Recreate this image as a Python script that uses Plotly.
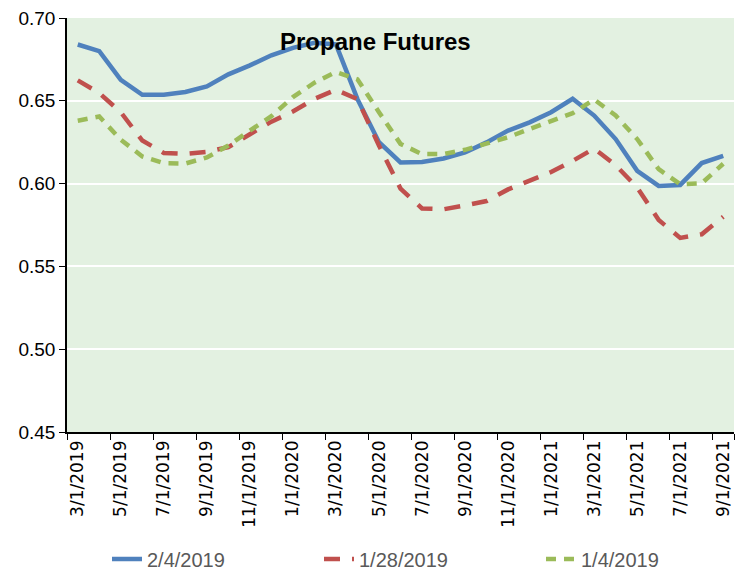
import plotly.graph_objects as go

months = ["3/1/2019","4/1/2019","5/1/2019","6/1/2019","7/1/2019","8/1/2019","9/1/2019","10/1/2019",
          "11/1/2019","12/1/2019","1/1/2020","2/1/2020","3/1/2020","4/1/2020","5/1/2020","6/1/2020",
          "7/1/2020","8/1/2020","9/1/2020","10/1/2020","11/1/2020","12/1/2020","1/1/2021","2/1/2021",
          "3/1/2021","4/1/2021","5/1/2021","6/1/2021","7/1/2021","8/1/2021","9/1/2021"]

s_0204 = [0.684,0.680,0.6626,0.6536,0.6536,0.6553,0.6587,0.666,0.6714,0.6775,0.682,0.685,0.684,0.651,
          0.625,0.6128,0.6131,0.6152,0.6188,0.6249,0.632,0.637,0.6431,0.6512,0.6411,0.6269,0.6077,
          0.5986,0.5992,0.6124,0.6168]
s_0128 = [0.6623,0.6547,0.6431,0.626,0.6185,0.618,0.6192,0.622,0.6298,0.6374,0.6435,0.6512,0.6567,0.651,
          0.623,0.597,0.585,0.5845,0.5868,0.5895,0.5965,0.6014,0.607,0.6137,0.6212,0.6111,0.5976,
          0.578,0.5672,0.5694,0.580]
s_0104 = [0.638,0.6405,0.6265,0.6164,0.6123,0.6121,0.6158,0.623,0.632,0.6407,0.6522,0.6609,0.6674,0.663,
          0.6431,0.624,0.6178,0.6178,0.6204,0.6239,0.628,0.633,0.638,0.6425,0.6508,0.6411,0.6269,
          0.6087,0.5996,0.6002,0.612]

tick_labels = months[::2]

fig = go.Figure()
fig.add_trace(go.Scatter(x=months, y=s_0204, mode="lines", name="2/4/2019", legend="legend",
                         line=dict(color="#4F81BD", width=4.5)))
fig.add_trace(go.Scatter(x=months, y=s_0128, mode="lines", name="1/28/2019", legend="legend2",
                         line=dict(color="#C0504D", width=4.5, dash="16px,12px")))
fig.add_trace(go.Scatter(x=months, y=s_0104, mode="lines", name="1/4/2019", legend="legend3",
                         line=dict(color="#9BBB59", width=4.5, dash="10px,8px")))

def leg(px):
    return dict(orientation="h", x=(px-67)/667, xanchor="left", y=-0.307, yanchor="middle",
                font=dict(family="Liberation Sans", size=20, color="#595959"),
                bgcolor="rgba(0,0,0,0)")

fig.update_layout(
    width=735, height=579,
    margin=dict(l=67, r=1, t=18, b=144),
    paper_bgcolor="white", plot_bgcolor="#E3F1E1",
    showlegend=True,
    legend=leg(107), legend2=leg(319), legend3=leg(541),
    annotations=[dict(text="<b>Propane Futures</b>", x=(375-67)/667, xref="paper",
                      y=1-(42-18)/417, yref="paper", xanchor="center", yanchor="middle",
                      showarrow=False,
                      font=dict(family="Liberation Sans", size=24, color="black"))],
)

fig.update_xaxes(type="category", categoryorder="array", categoryarray=months,
                 range=[-0.5, len(months)-0.5], automargin=False,
                 tickmode="array", tickvals=tick_labels, ticktext=tick_labels,
                 tickson="boundaries", ticks="outside", ticklen=6, tickcolor="black",
                 tickangle=-90, showgrid=False, showline=True, linecolor="black", linewidth=1.5,
                 tickfont=dict(family="DejaVu Sans", size=17, color="black"), zeroline=False)
fig.update_yaxes(range=[0.45, 0.70], dtick=0.05, tickformat=".2f", automargin=False,
                 ticks="outside", ticklen=6, tickcolor="black",
                 showgrid=True, gridcolor="white", gridwidth=2,
                 showline=True, linecolor="black", linewidth=1.5, zeroline=False,
                 tickfont=dict(family="Liberation Sans", size=19, color="black"))

fig.write_html("out.html", config={"displayModeBar": False},
               post_script="document.body.style.margin='0';document.body.style.overflow='hidden';")
